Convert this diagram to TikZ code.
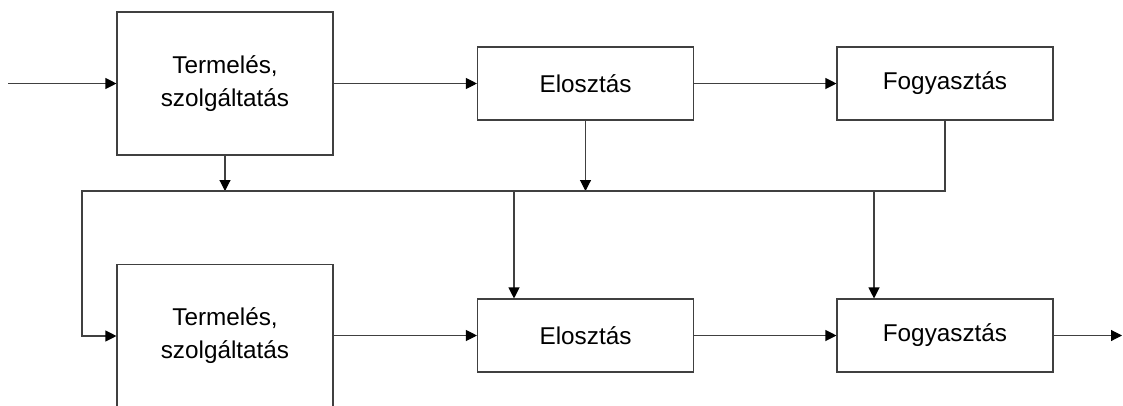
\documentclass[tikz,border=0pt]{standalone}
\usepackage{fontspec}
\setmainfont{Liberation Sans}
\usetikzlibrary{arrows.meta}
\begin{document}
\begin{tikzpicture}[x=1pt,y=-1pt,
  blk/.style={draw=black!75, line width=1.1pt, minimum width=216pt, inner sep=0pt,
    font=\fontsize{24.3}{33}\selectfont, align=center},
  tall/.style={blk, minimum height=143pt},
  flat/.style={blk, minimum height=73pt},
  link/.style={draw=black!75, line width=1.1pt},
  arr/.style={link, -{Triangle[length=11pt,width=11pt,color=black]}}]
\useasboundingbox (0,0) rectangle (1123,405);
\clip (0,0) rectangle (1123,405);

% upper chain
\node[tall] (p1) at (225,83.5) {Termelés,\\szolgáltatás};
\node[flat] (d1) at (585.5,83.5) {Elosztás};
\node[flat] (c1) at (945,83.5) {Fogyasztás};

% lower chain
\node[tall] (p2) at (225,336) {Termelés,\\szolgáltatás};
\node[flat] (d2) at (585.5,335.5) {Elosztás};
\node[flat] (c2) at (945,335.5) {Fogyasztás};

% free ends and bus points
\coordinate (in)  at (8,83.5);
\coordinate (out) at (1122,335.5);
\coordinate (busL) at (82,191);
\coordinate (t1) at (514,191);
\coordinate (t2) at (874,191);

% upper flow
\draw[arr] (in) -- (p1.west);
\draw[arr] (p1.east) -- (d1.west);
\draw[arr] (d1.east) -- (c1.west);

% feeds onto the common bus
\draw[arr] (p1.south) -- (p1.south |- busL);
\draw[arr] (d1.south) -- (d1.south |- busL);
\draw[arr] (c1.south) |- (busL) |- (p2.west);

% branches from the bus
\draw[arr] (t1) -- (t1 |- d2.north);
\draw[arr] (t2) -- (t2 |- c2.north);

% lower flow
\draw[arr] (p2.east |- d2.west) -- (d2.west);
\draw[arr] (d2.east) -- (c2.west);
\draw[arr] (c2.east) -- (out);
\end{tikzpicture}
\end{document}
